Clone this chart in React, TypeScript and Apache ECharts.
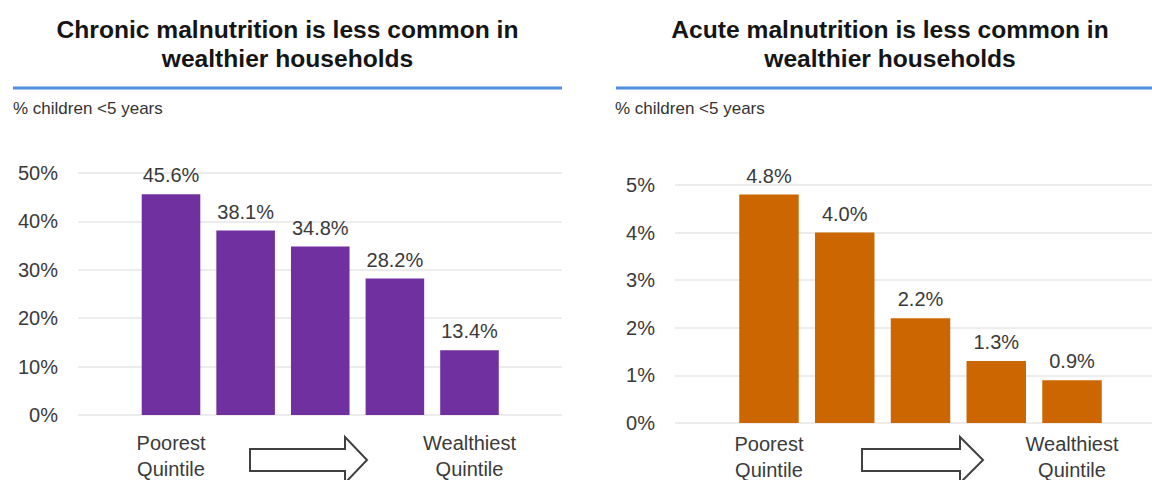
import React, { useEffect, useRef } from "react";
import * as echarts from "echarts";

// Under-five malnutrition by household wealth quintile
const quintiles = ["Poorest Quintile", "Quintile 2", "Quintile 3", "Quintile 4", "Wealthiest Quintile"];
const chronicValues = [45.6, 38.1, 34.8, 28.2, 13.4];
const acuteValues = [4.8, 4.0, 2.2, 1.3, 0.9];
const chronicTicks = { min: 0, max: 50, interval: 10 };
const acuteTicks = { min: 0, max: 5, interval: 1 };

const chronicTitle = "Chronic malnutrition is less common in\nwealthier households";
const acuteTitle = "Acute malnutrition is less common in\nwealthier households";
const unitNote = "% children <5 years";

const FONT = '"Liberation Sans", Arial, Helvetica, sans-serif';
const PURPLE = "#7030a0";
const ORANGE = "#cc6600";
const RULE_BLUE = "#4f8fdc";
const GRID_GRAY = "#e6e6e6";
const TEXT = "#3a3a3a";

const edgeLabel = (value: string, index: number) =>
  index === 0 || index === quintiles.length - 1 ? value.replace(" ", "\n") : "";

export default function App() {
  const ref = useRef<HTMLDivElement>(null);

  useEffect(() => {
    if (!ref.current) return;
    const chart = echarts.init(ref.current, null, { renderer: "svg" });

    const valueAxisLabel = {
      color: TEXT,
      fontSize: 20,
      fontFamily: FONT,
      margin: 20,
      formatter: "{value}%",
    };

    const categoryLabel = (margin: number) => ({
      color: TEXT,
      fontSize: 20,
      fontFamily: FONT,
      lineHeight: 26,
      margin,
      interval: 0,
      formatter: edgeLabel,
    });

    const barLabel = {
      show: true,
      position: "top" as const,
      distance: 9,
      color: TEXT,
      fontSize: 20,
      fontFamily: FONT,
      formatter: (p: any) => `${Number(p.value).toFixed(1)}%`,
    };

    const arrow = (x0: number, xh: number, xt: number, yc: number) => ({
      type: "polygon",
      shape: {
        points: [
          [x0, yc - 11],
          [xh, yc - 11],
          [xh, yc - 23],
          [xt, yc],
          [xh, yc + 23],
          [xh, yc + 11],
          [x0, yc + 11],
        ],
      },
      style: { fill: "#ffffff", stroke: "#404040", lineWidth: 2 },
    });

    const titleText = (text: string, x: number) => ({
      type: "text",
      x,
      y: 44,
      style: {
        text,
        fill: "#151515",
        font: `bold 24.6px ${FONT}`,
        lineHeight: 29,
        align: "center",
        verticalAlign: "middle",
      },
    });

    const noteText = (x: number) => ({
      type: "text",
      x,
      y: 108,
      style: {
        text: unitNote,
        fill: "#333333",
        font: `17px ${FONT}`,
        align: "left",
        verticalAlign: "middle",
      },
    });

    const rule = (x1: number, x2: number) => ({
      type: "line",
      shape: { x1, y1: 88, x2, y2: 88 },
      style: { stroke: RULE_BLUE, lineWidth: 3 },
    });

    const gridBase = { outerBoundsMode: "none", containLabel: false };

    chart.setOption({
      animation: false,
      backgroundColor: "#ffffff",
      grid: [
        { ...gridBase, left: 78, right: 590, top: 173, bottom: 65 },
        { ...gridBase, left: 133.7, right: 645.2, top: 173, bottom: 65 },
        { ...gridBase, left: 675, right: 0, top: 185, bottom: 57 },
        { ...gridBase, left: 731.1, right: 42.1, top: 185, bottom: 57 },
      ],
      xAxis: [
        { type: "value", gridIndex: 0, show: false, min: 0, max: 1 },
        {
          type: "category",
          gridIndex: 1,
          data: quintiles,
          axisLine: { show: false },
          axisTick: { show: false },
          axisLabel: categoryLabel(15),
        },
        { type: "value", gridIndex: 2, show: false, min: 0, max: 1 },
        {
          type: "category",
          gridIndex: 3,
          data: quintiles,
          axisLine: { show: false },
          axisTick: { show: false },
          axisLabel: categoryLabel(8),
        },
      ],
      yAxis: [
        {
          type: "value",
          gridIndex: 0,
          ...chronicTicks,
          axisLine: { show: false },
          axisTick: { show: false },
          axisLabel: valueAxisLabel,
          splitLine: { lineStyle: { color: GRID_GRAY, width: 1.5 } },
        },
        { type: "value", gridIndex: 1, ...chronicTicks, show: false, splitLine: { show: false } },
        {
          type: "value",
          gridIndex: 2,
          ...acuteTicks,
          axisLine: { show: false },
          axisTick: { show: false },
          axisLabel: valueAxisLabel,
          splitLine: { lineStyle: { color: GRID_GRAY, width: 1.5 } },
        },
        { type: "value", gridIndex: 3, ...acuteTicks, show: false, splitLine: { show: false } },
      ],
      series: [
        {
          type: "bar",
          xAxisIndex: 1,
          yAxisIndex: 1,
          data: chronicValues,
          barCategoryGap: "21.5%",
          itemStyle: { color: PURPLE },
          label: barLabel,
        },
        {
          type: "bar",
          xAxisIndex: 3,
          yAxisIndex: 3,
          data: acuteValues,
          barCategoryGap: "21.5%",
          itemStyle: { color: ORANGE },
          label: barLabel,
        },
      ],
      graphic: [
        titleText(chronicTitle, 287.5),
        titleText(acuteTitle, 890),
        rule(13, 562),
        rule(616, 1152),
        noteText(13),
        noteText(615),
        arrow(250, 345, 367, 460),
        arrow(862, 960, 983, 460),
      ],
    });

    return () => chart.dispose();
  }, []);

  return (
    <div
      ref={ref}
      style={{ position: "absolute", left: 0, top: 0, width: 1152, height: 480, background: "#fff" }}
    />
  );
}
